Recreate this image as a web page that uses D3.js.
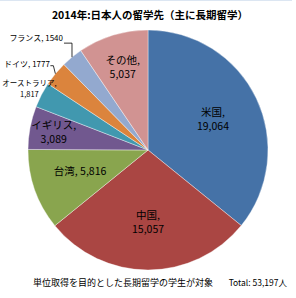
<!DOCTYPE html>
<html>
<head>
<meta charset="utf-8">
<script src="https://cdn.jsdelivr.net/npm/d3@7"></script>
<style>
  body { margin: 0; background: #fff; }
  svg text { font-family: "Noto Sans CJK JP", "DejaVu Sans", sans-serif; fill: #000; }
</style>
</head>
<body>
<div id="chart"></div>
<script>
// data
const categories = ["米国", "中国", "台湾", "イギリス", "オーストラリア", "ドイツ", "フランス", "その他"];
const values = [19064, 15057, 5816, 3089, 1817, 1777, 1540, 5037];
const valueLabels = ["19,064", "15,057", "5,816", "3,089", "1,817", "1777", "1540", "5,037"];
const colors = ["#4572A7", "#AA4643", "#89A54E", "#71588F", "#4198AF", "#DB843D", "#93A9CF", "#D19392"];
const titleText = "2014年:日本人の留学先（主に長期留学）";
const noteText = "単位取得を目的とした長期留学の学生が対象";
const totalText = "Total:  53,197人";

const W = 296, H = 298;
const cx = 148, cy = 150, radius = 120;

const svg = d3.select("#chart").append("svg")
    .attr("width", W)
    .attr("height", H);

// faint frame line at the top
svg.append("line")
    .attr("x1", 0).attr("x2", 292)
    .attr("y1", 0.5).attr("y2", 0.5)
    .attr("stroke", "#dce6f2");

svg.append("text")
    .attr("x", 150)
    .attr("y", 19)
    .attr("text-anchor", "middle")
    .style("font-size", "10.5px")
    .style("font-weight", "bold")
    .text(titleText);

const data = categories.map((c, i) => ({ name: c, value: values[i], label: valueLabels[i], color: colors[i] }));

const pie = d3.pie().sort(null).value(d => d.value);
const arcs = pie(data);

const arc = d3.arc().innerRadius(0).outerRadius(radius);

const g = svg.append("g").attr("transform", `translate(${cx},${cy})`);

g.selectAll("path.slice")
    .data(arcs)
    .enter()
    .append("path")
    .attr("class", "slice")
    .attr("d", arc)
    .attr("fill", d => d.data.color)
    .attr("stroke", "#ffffff")
    .attr("stroke-opacity", 0.55)
    .attr("stroke-width", 0.7);

// labels inside the pie
const insideR = { "米国": 0.6, "中国": 0.6, "台湾": 0.6, "イギリス": 0.8, "その他": 0.72 };
arcs.filter(d => insideR[d.data.name]).forEach(d => {
    const r = radius * insideR[d.data.name];
    const [x, y] = d3.arc().innerRadius(r).outerRadius(r).centroid(d);
    const t = g.append("text")
        .attr("text-anchor", "middle")
        .style("font-size", "10.5px");
    if (d.data.name === "台湾") {
        t.attr("x", x).attr("y", y + 1).text(`${d.data.name}, ${d.data.label}`);
    } else {
        t.append("tspan").attr("x", x).attr("y", y - 3).text(d.data.name + ",");
        t.append("tspan").attr("x", x).attr("y", y + 11).text(d.data.label);
    }
});

// labels outside the pie with leader lines
const edge = d3.arc().innerRadius(radius).outerRadius(radius);
arcs.forEach(d => {
    const [px, py] = edge.centroid(d);
    const name = d.data.name;
    if (name === "フランス") {
        g.append("path")
            .attr("d", `M${px},${py}L${px},${py - 14}L${px - 8},${py - 14}`)
            .attr("fill", "none").attr("stroke", "#000").attr("stroke-width", 0.8);
        g.append("text")
            .attr("x", px - 9).attr("y", py - 16)
            .attr("text-anchor", "end")
            .style("font-size", "8px")
            .text(`${name}, ${d.data.label}`);
    } else if (name === "ドイツ") {
        g.append("path")
            .attr("d", `M${px},${py}L${px - 2},${py - 8}L${px - 5},${py - 8}`)
            .attr("fill", "none").attr("stroke", "#000").attr("stroke-width", 0.8);
        g.append("text")
            .attr("x", px - 5.5).attr("y", py - 7)
            .attr("text-anchor", "end")
            .style("font-size", "8px")
            .text(`${name}, ${d.data.label}`);
    } else if (name === "オーストラリア") {
        const t = g.append("text")
            .attr("text-anchor", "middle")
            .style("font-size", "7.5px");
        t.append("tspan").attr("x", px - 12).attr("y", py - 9).text(name + ",");
        t.append("tspan").attr("x", px - 12).attr("y", py + 2).text(d.data.label);
    }
});

svg.append("text")
    .attr("x", 123)
    .attr("y", 286)
    .attr("text-anchor", "middle")
    .style("font-size", "9px")
    .text(noteText);

svg.append("text")
    .attr("x", 287)
    .attr("y", 286)
    .attr("text-anchor", "end")
    .style("font-size", "8.5px")
    .text(totalText);
</script>
</body>
</html>
